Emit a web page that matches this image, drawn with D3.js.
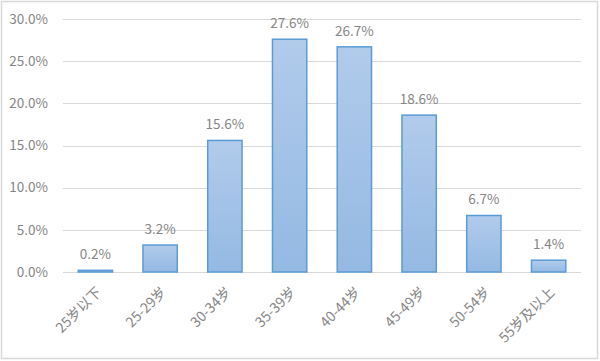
<!DOCTYPE html>
<html>
<head>
<meta charset="utf-8">
<script src="https://cdn.jsdelivr.net/npm/d3@7"></script>
<style>
  body { margin: 0; background: #fff; }
  text { font-family: "Noto Sans CJK SC", "Liberation Sans", sans-serif; }
</style>
</head>
<body>
<div id="chart"></div>
<script>
const width = 600;
const height = 361;
const margin = { top: 19, right: 19, bottom: 89, left: 63 };

// age groups and share of people
const categories = ['25岁以下', '25-29岁', '30-34岁', '35-39岁', '40-44岁', '45-49岁', '50-54岁', '55岁及以上'];
const values = [0.2, 3.2, 15.6, 27.6, 26.7, 18.6, 6.7, 1.4];
const yTicks = [0, 5, 10, 15, 20, 25, 30];

const svg = d3.select('#chart')
  .append('svg')
  .attr('width', width)
  .attr('height', height);

// outer frame
svg.append('rect')
  .attr('x', 1.5).attr('y', 1.5)
  .attr('width', width - 4).attr('height', height - 4)
  .attr('fill', '#fff')
  .attr('stroke', '#d9d9d9')
  .attr('stroke-width', 1.5);

const defs = svg.append('defs');
const grad = defs.append('linearGradient')
  .attr('id', 'barFill')
  .attr('x1', 0).attr('y1', 0).attr('x2', 0).attr('y2', 1);
grad.append('stop').attr('offset', '0%').attr('stop-color', '#b1cbeb');
grad.append('stop').attr('offset', '100%').attr('stop-color', '#94b9e3');

const innerW = width - margin.left - margin.right;
const innerH = height - margin.top - margin.bottom;

const g = svg.append('g')
  .attr('transform', `translate(${margin.left}, ${margin.top})`);

const x = d3.scaleBand()
  .domain(categories)
  .range([0, innerW])
  .paddingInner(0.47)
  .paddingOuter(0.235);

const y = d3.scaleLinear()
  .domain([0, 30])
  .range([innerH, 0]);

// gridlines
g.selectAll('line.grid')
  .data(yTicks)
  .join('line')
  .attr('class', 'grid')
  .attr('x1', 0)
  .attr('x2', innerW)
  .attr('y1', d => Math.round(y(d)) + 0.5)
  .attr('y2', d => Math.round(y(d)) + 0.5)
  .attr('stroke', '#d9d9d9')
  .attr('stroke-width', 1);

// Y axis labels
const yAxis = g.append('g')
  .call(d3.axisLeft(y).tickValues(yTicks).tickFormat(d => d.toFixed(1) + '%').tickSize(0).tickPadding(15));
yAxis.select('.domain').remove();
yAxis.selectAll('text')
  .attr('font-size', '13.5px')
  .attr('fill', '#868686')
  .style('font-family', '"Noto Sans CJK SC", sans-serif');

// bars
g.selectAll('rect.bar')
  .data(values)
  .join('rect')
  .attr('class', 'bar')
  .attr('x', (d, i) => x(categories[i]))
  .attr('y', d => y(d))
  .attr('width', x.bandwidth())
  .attr('height', d => innerH - y(d))
  .attr('fill', 'url(#barFill)')
  .attr('stroke', '#5b9bd5')
  .attr('stroke-width', 1.5);

// value labels
g.selectAll('text.point-label')
  .data(values)
  .join('text')
  .attr('class', 'point-label')
  .attr('x', (d, i) => x(categories[i]) + x.bandwidth() / 2)
  .attr('y', d => y(d) - 11)
  .attr('text-anchor', 'middle')
  .attr('font-size', '13.5px')
  .attr('fill', '#868686')
  .text(d => d.toFixed(1) + '%');

// X axis labels
const xAxis = g.append('g')
  .attr('transform', `translate(0, ${innerH})`)
  .call(d3.axisBottom(x).tickSize(0).tickPadding(0));
xAxis.select('.domain').remove();
xAxis.selectAll('text')
  .attr('font-size', '14px')
  .attr('fill', '#868686')
  .style('font-family', '"Noto Sans CJK SC", sans-serif')
  .attr('text-anchor', 'end')
  .attr('dy', 0)
  .attr('transform', 'translate(7, 21) rotate(-45)');
</script>
</body>
</html>
